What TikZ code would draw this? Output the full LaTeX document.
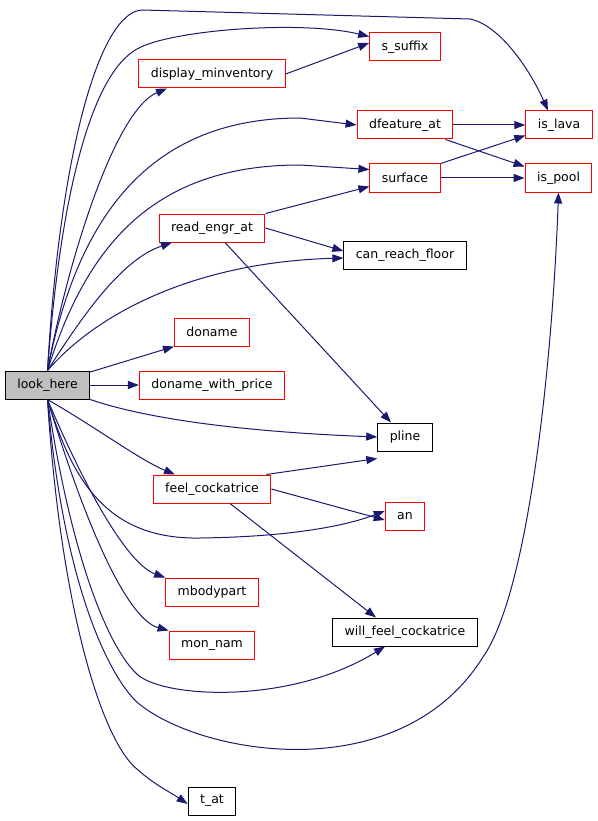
\documentclass[tikz,border=0pt]{standalone}
\usepackage{fontspec}
\setmainfont{DejaVu Sans}
\usetikzlibrary{arrows.meta}
\definecolor{edgeblue}{HTML}{191970}
\definecolor{rootgrey}{HTML}{BFBFBF}
\begin{document}
\begin{tikzpicture}[x=1pt, y=-1pt]
  \tikzset{fn/.style={draw=red, line width=1pt, minimum height=28pt, inner xsep=12pt, inner ysep=0pt, font=\fontsize{12.5}{14}\selectfont},
           fnb/.style={fn, draw=black},
           fnroot/.style={fnb, fill=rootgrey},
           call/.style={draw=edgeblue, line width=1pt, -{Triangle[length=11pt, width=8pt]}}}
  \useasboundingbox (0,0) rectangle (597,821);
  % nodes
  \node[fnroot] (look)  at (47.5, 385)  {look\_here};
  \node[fn]  (dispinv)  at (212, 74)   {display\_minventory};
  \node[fn]  (suffix)   at (405, 47)   {s\_suffix};
  \node[fn]  (dfeat)    at (405, 125)  {dfeature\_at};
  \node[fn]  (surf)     at (405, 178)  {surface};
  \node[fn]  (lava)     at (559, 125)  {is\_lava};
  \node[fn]  (pool)     at (558.5, 178)  {is\_pool};
  \node[fn]  (engr)     at (212, 228)  {read\_engr\_at};
  \node[fnb] (reach)    at (405, 255)  {can\_reach\_floor};
  \node[fn]  (doname)   at (212, 332)  {doname};
  \node[fn]  (price)    at (212, 385)  {doname\_with\_price};
  \node[fnb] (pline)    at (405, 437)  {pline};
  \node[fn]  (feel)     at (212, 489)  {feel\_cockatrice};
  \node[fn]  (an)       at (405, 516)  {an};
  \node[fn]  (body)     at (212, 592)  {mbodypart};
  \node[fn]  (monnam)   at (212, 645)  {mon\_nam};
  \node[fnb] (willfeel) at (405, 632)  {will\_feel\_cockatrice};
  \node[fnb] (tat)      at (212, 801)  {t\_at};
  % calls from look_here
  \draw[call] (look.north) .. controls (60,150) and (100,12) .. (142,10)
     -- (470,19) .. controls (500,25) and (530,70) .. (lava.north west -| 548,0);
  \draw[call] (look.north) .. controls (60,200) and (90,75) .. (137,49)
     .. controls (170,30) and (300,20) .. ([yshift=-4pt]suffix.north west);
  \draw[call] (look.north) .. controls (68,260) and (115,110) .. (dispinv.south west -| 167,0);
  \draw[call] (look.north) .. controls (75,230) and (140,118) .. (300,118) -- (dfeat.west);
  \draw[call] (look.north) .. controls (85,250) and (150,165) .. (300,165) -- ([yshift=-6pt]surf.north west);
  \draw[call] (look.north) .. controls (80,320) and (120,260) .. (engr.south west -| 172,0);
  \draw[call] (look.north) .. controls (100,310) and (200,262) .. ([yshift=-3pt]reach.west);
  \draw[call] (look) -- (doname.south west);
  \draw[call] (look) -- (price);
  \draw[call] (look.south east) .. controls (150,420) and (250,432) .. (pline.west);
  \draw[call] (look.south) .. controls (100,430) and (140,460) .. (feel.north west -| 175,0);
  \draw[call] (look.south) .. controls (70,470) and (100,540) .. (200,538)
     .. controls (280,537) and (340,528) .. ([yshift=5pt]an.west);
  \draw[call] (look.south) .. controls (90,500) and (130,565) .. (body.north west);
  \draw[call] (look.south) .. controls (90,540) and (130,620) .. (monnam.north west);
  \draw[call] (look.south) .. controls (75,580) and (115,655) .. (138,675)
     .. controls (165,698) and (290,705) .. (willfeel.south west -| 385,0);
  \draw[call] (look.south) .. controls (65,600) and (115,683) .. (138,703)
     .. controls (200,755) and (400,790) .. (483,657)
     .. controls (530,590) and (553,350) .. (pool.south);
  \draw[call] (look.south) .. controls (60,600) and (100,740) .. (138,770)
     .. controls (155,785) and (170,792) .. ([yshift=-3pt]tat.west);
  % calls between callees
  \draw[call] (dispinv.east) -- ([yshift=4pt]suffix.west);
  \draw[call] (engr.north east) -- ([yshift=6pt]surf.south west);
  \draw[call] (engr.east) -- ([yshift=4pt]reach.west);
  \draw[call] ([xshift=13pt]engr.south) -- (pline.north -| 391,0);
  \draw[call] (dfeat) -- (lava);
  \draw[call] ([xshift=-8pt]dfeat.south east) -- ([yshift=-3pt]pool.north west);
  \draw[call] (surf.north east) -- ([yshift=4pt]lava.south west);
  \draw[call] (surf) -- (pool);
  \draw[call] ([xshift=-5pt]feel.north east) -- ([yshift=-7pt]pline.south west);
  \draw[call] (feel.east) -- ([yshift=-4pt]an.west);
  \draw[call] ([xshift=18pt]feel.south) -- (willfeel.north west -| 376,0);
\end{tikzpicture}
\end{document}
